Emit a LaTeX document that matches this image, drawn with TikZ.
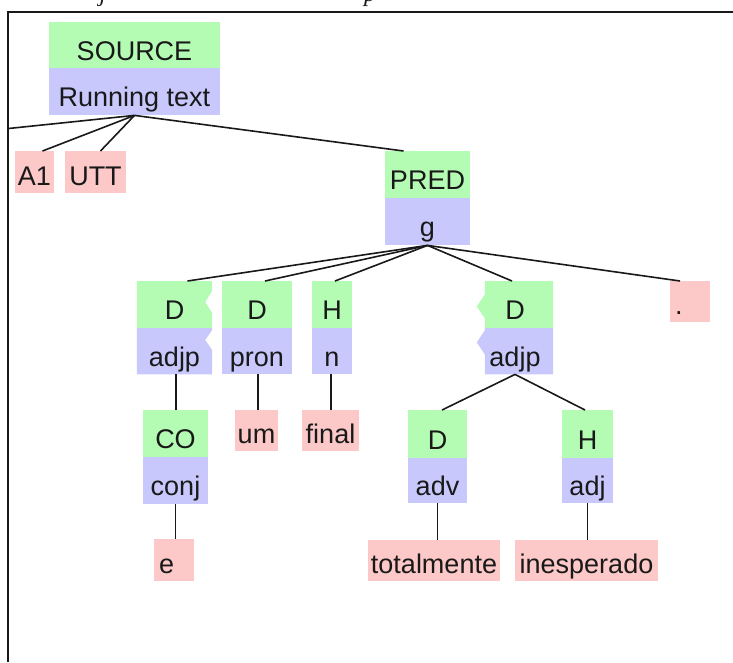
\documentclass[tikz,border=0pt]{standalone}
\usepackage{fontspec}
\setmainfont{Liberation Sans}
\newfontfamily\capfont{Liberation Serif}
\usetikzlibrary{backgrounds}
\definecolor{fnbg}{RGB}{180,252,180}
\definecolor{catbg}{RGB}{200,200,252}
\definecolor{wordbg}{RGB}{252,200,200}
\definecolor{ink}{RGB}{25,25,25}
\tikzset{
  box/.style={rectangle, inner sep=0pt, text height=30pt, text depth=0pt,
    text=ink, font=\fontsize{27}{29}\selectfont, anchor=north},
  fnbox/.style={box, fill=fnbg},
  catbox/.style={box, fill=catbg},
  plainbox/.style={box},
  wordbox/.style={box, fill=wordbg, text height=26pt, minimum height=42pt},
  edge/.style={draw=ink, line width=1.6pt},
  frame/.style={draw=ink, line width=2pt},
  captext/.style={anchor=base, font=\capfont\itshape\fontsize{24}{26}\selectfont, text=ink, inner sep=0pt},
}
\begin{document}
\begin{tikzpicture}[x=1pt,y=-1pt]
\clip (0,0) rectangle (733,662);

% caption line above the frame (only descenders remain visible)
\node[captext] (capj) at (103,1) {j};
\node[captext] (capp) at (370,1) {p};

% frame
\draw[frame] (7.5,662) -- (7.5,11.5) -- (733,11.5);

% root
\node[fnbox, minimum width=171pt, minimum height=46pt] (srcF) at (134.5,22) {SOURCE};
\node[catbox, minimum width=171pt, minimum height=47pt] (srcC) at (134.5,68) {Running text};
\node[wordbox, minimum width=39pt] (a1) at (34.5,151) {A1};
\node[wordbox, minimum width=61pt] (utt) at (95.5,151) {UTT};
\coordinate (offleft) at (8.5,128.5);

% predicate
\node[fnbox, minimum width=85pt, minimum height=47pt] (predF) at (427.5,151) {PRED};
\node[catbox, minimum width=85pt, minimum height=47pt] (predC) at (427.5,198) {g};

% constituents of g
\node[plainbox, minimum width=75pt, minimum height=47pt] (adjlF) at (174.5,281) {D};
\node[plainbox, minimum width=75pt, minimum height=46pt] (adjlC) at (174.5,328) {adjp};
\node[fnbox, minimum width=70pt, minimum height=47pt] (pronF) at (257,281) {D};
\node[catbox, minimum width=70pt, minimum height=46pt] (pronC) at (257,328) {pron};
\node[fnbox, minimum width=40pt, minimum height=47pt] (nF) at (332,281) {H};
\node[catbox, minimum width=40pt, minimum height=46pt] (nC) at (332,328) {n};
\node[plainbox, minimum width=76pt, minimum height=47pt] (adjrF) at (515,281) {D};
\node[plainbox, minimum width=76pt, minimum height=46pt] (adjrC) at (515,328) {adjp};
\node[wordbox, minimum width=40pt, minimum height=41pt] (dot) at (690,281) {\makebox[30pt][l]{.}};

% third level
\node[fnbox, minimum width=65pt, minimum height=47pt] (coF) at (175.5,410) {CO};
\node[catbox, minimum width=65pt, minimum height=47pt] (coC) at (175.5,457) {conj};
\node[wordbox, minimum width=43pt, minimum height=41pt] (um) at (256.5,410) {um};
\node[wordbox, minimum width=57pt, minimum height=41pt] (final) at (330.5,410) {final};
\node[fnbox, minimum width=59pt, minimum height=48pt] (advF) at (437.5,410) {D};
\node[catbox, minimum width=59pt, minimum height=45pt] (advC) at (437.5,458) {adv};
\node[fnbox, minimum width=51pt, minimum height=48pt] (adjF) at (587.5,410) {H};
\node[catbox, minimum width=51pt, minimum height=45pt] (adjC) at (587.5,458) {adj};

% words
\node[wordbox, minimum width=40pt] (e) at (174,539) {\makebox[30pt][l]{e}};
\node[wordbox, minimum width=132pt, minimum height=41pt] (tot) at (434,540) {totalmente};
\node[wordbox, minimum width=143pt, minimum height=41pt] (inesp) at (586.5,540) {inesperado};

% notched fills of the discontinuous adjp
\begin{scope}[on background layer]
  \fill[fnbg] (adjlF.north west) -- (adjlF.north east) -- ++(0,10) -- ++(-7,11) -- ++(7,11)
    -- (adjlF.south east) -- (adjlF.south west) -- cycle;
  \fill[catbg] (adjlC.north west) -- (adjlC.north east) -- ++(0,2) -- ++(-7,10) -- ++(7,10)
    -- (adjlC.south east) -- (adjlC.south west) -- cycle;
  \fill[fnbg] ([xshift=8pt]adjrF.north west) -- (adjrF.north east) -- (adjrF.south east)
    -- ([xshift=8pt]adjrF.south west) -- ++(0,-10) -- ++(-8,-12) -- ++(8,-12) -- cycle;
  \fill[catbg] ([xshift=8pt]adjrC.north west) -- (adjrC.north east) -- (adjrC.south east)
    -- ([xshift=8pt]adjrC.south west) -- ++(0,-20) -- ++(-8,-12) -- ++(8,-12) -- cycle;
\end{scope}

% connectors
\draw[edge] (srcC.south) -- (offleft);
\draw[edge] (srcC.south) -- ([xshift=8pt]a1.north);
\draw[edge] (srcC.south) -- ([xshift=5pt]utt.north);
\draw[edge] (srcC.south) -- ([xshift=-24pt]predF.north);

\draw[edge] (predC.south) -- ([xshift=13pt]adjlF.north);
\draw[edge] (predC.south) -- ([xshift=8pt]pronF.north);
\draw[edge] (predC.south) -- ([xshift=3pt]nF.north);
\draw[edge] (predC.south) -- ([xshift=-3pt]adjrF.north);
\draw[edge] (predC.south) -- ([xshift=-10pt]dot.north);

\draw[edge] ([xshift=1.5pt]adjlC.south) -- ([xshift=1.5pt]adjlC.south |- coF.north);
\draw[edge] ([xshift=1pt]pronC.south) -- ([xshift=1pt]pronC.south |- um.north);
\draw[edge] ([xshift=-1pt]nC.south) -- ([xshift=-1pt]nC.south |- final.north);
\draw[edge] (adjrC.south) -- ([xshift=4.5pt]advF.north);
\draw[edge] (adjrC.south) -- ([xshift=-2.5pt]adjF.north);

\draw[edge] (coC.south) -- (coC.south |- e.north);
\draw[edge] (advC.south) -- (advC.south |- tot.north);
\draw[edge] (adjC.south) -- (adjC.south |- inesp.north);
\end{tikzpicture}
\end{document}
